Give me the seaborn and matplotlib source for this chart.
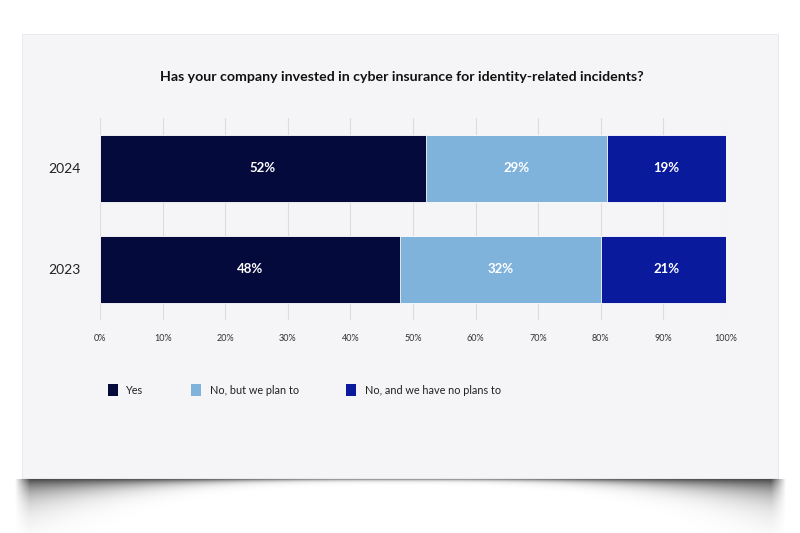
import numpy as np
import pandas as pd
import matplotlib
matplotlib.use("Agg")
import matplotlib.pyplot as plt
from matplotlib.patches import Rectangle, Patch
import seaborn as sns

# ---- data ----
years = ["2024", "2023"]
answers = ["Yes", "No, but we plan to", "No, and we have no plans to"]
yes = [52, 48]
plan = [29, 32]
no_plan = [19, 21]
ticks = list(range(0, 101, 10))

colors = ["#050a3c", "#7fb3dc", "#0a1a9c"]
panel_color = "#f5f5f7"

sns.set_theme(style="white")
plt.rcParams["font.family"] = ["Lato", "DejaVu Sans"]

df = pd.DataFrame({"year": years, "Yes": yes, "Plan": plan, "NoPlan": no_plan})
df["c1"] = df["Yes"]
df["c2"] = df["Yes"] + df["Plan"]
df["c3"] = df["c2"] + df["NoPlan"]

W, H = 800, 533
fig = plt.figure(figsize=(8, 5.33), dpi=100)

# ---- background panel with soft shadow ----
bg = fig.add_axes([0, 0, 1, 1])
px0, px1, py0, py1 = 22, 778, 34, 478
yy, xx = np.mgrid[0:H, 0:W].astype(float)
u = (xx - (px0 + px1) / 2) / ((px1 - px0) / 2)
thick = 1.5 + 16 * np.clip(np.abs(u), 0, 1.02) ** 3
d = yy - py1
alpha = np.where(d > 0, np.exp(-d / thick), 0.0)
edge = np.clip((1.02 - np.abs(u)) / 0.04, 0, 1)
alpha *= 0.75 * edge
rgba = np.zeros((H, W, 4))
rgba[..., 3] = alpha
bg.imshow(rgba, extent=(0, W, H, 0), interpolation="bilinear")
bg.add_patch(Rectangle((px0, py0), px1 - px0, py1 - py0, fc=panel_color,
                       ec="#e6e6ea", lw=0.6))
bg.set_xlim(0, W)
bg.set_ylim(H, 0)
bg.axis("off")

# ---- stacked bars (drawn as overlapping cumulative bars) ----
ax = fig.add_axes([100 / W, 1 - 319.5 / H, 626 / W, 201.5 / H])
ax.set_facecolor("none")
for col, c in zip(["c3", "c2", "c1"], colors[::-1]):
    sns.barplot(data=df, x=col, y="year", order=years, orient="h",
                color=c, width=0.667, edgecolor="white", linewidth=0.6,
                saturation=1, ax=ax)

for i, row in df.iterrows():
    starts = [0, row["c1"], row["c2"]]
    vals = [row["Yes"], row["Plan"], row["NoPlan"]]
    for s, v in zip(starts, vals):
        ax.text(s + v / 2, i, f"{v}%", ha="center", va="center",
                color="white", fontsize=9.5, fontweight="bold")

ax.set_xlim(0, 100)
ax.set_xticks(ticks)
ax.set_xticklabels([f"{t}%" for t in ticks], fontsize=6.5, color="#333333")
ax.tick_params(axis="x", length=0, pad=10.5)
ax.tick_params(axis="y", length=0, pad=14, labelsize=10, labelcolor="#222222")
ax.set_xlabel("")
ax.set_ylabel("")
ax.grid(axis="x", color="#dcdcdc", lw=0.8)
ax.set_axisbelow(True)
for s in ax.spines.values():
    s.set_visible(False)

fig.text(0.502, 1 - 77 / H,
         "Has your company invested in cyber insurance for identity-related incidents?",
         ha="center", va="center", fontsize=10.2, fontweight="bold", color="#111111")

handles = [Patch(facecolor=c, edgecolor="none", label=a) for c, a in zip(colors, answers)]
fig.legend(handles=handles, loc="center left", bbox_to_anchor=(108 / W, 1 - 390 / H),
           ncol=3, frameon=False, fontsize=7.8, handlelength=0.9, handleheight=1.3,
           handletextpad=0.8, columnspacing=4.4, borderpad=0, borderaxespad=0,
           labelcolor="#222222")

fig.savefig("out.png", dpi=100)
